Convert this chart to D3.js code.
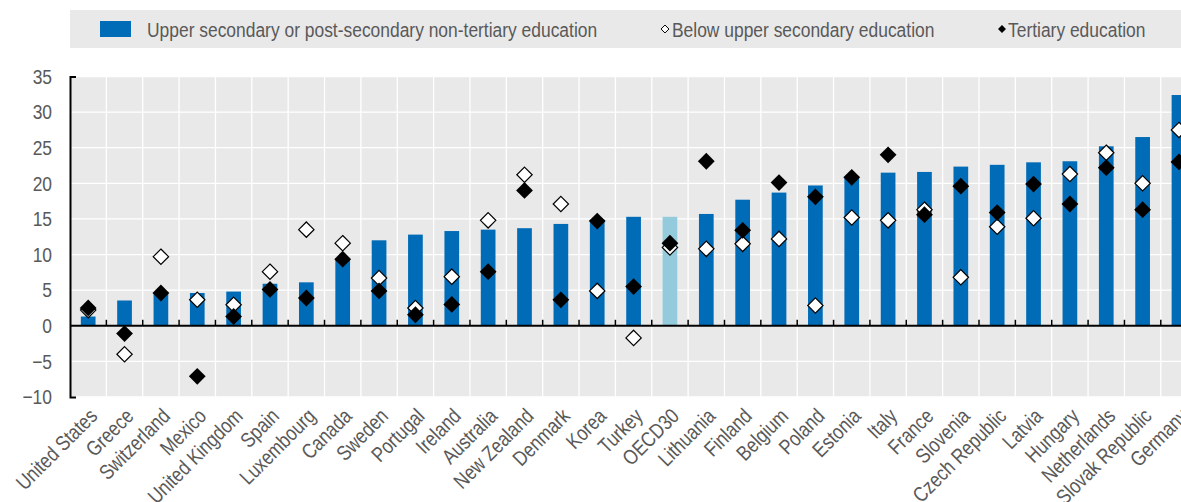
<!DOCTYPE html>
<html>
  <head>
    <meta charset="utf-8">
    <title>Education gaps chart</title>
    <script src="https://cdn.jsdelivr.net/npm/d3@7"></script>
    <style>
      body { margin: 0; background: #fff; }
      svg text { font-family: "Liberation Sans", Arial, sans-serif; fill: #595959; }
    </style>
  </head>

  <body>
    <svg id="chart" width="1181" height="502"></svg>

    <script>
      // data
      countries = ["United States", "Greece", "Switzerland", "Mexico", "United Kingdom", "Spain",
        "Luxembourg", "Canada", "Sweden", "Portugal", "Ireland", "Australia", "New Zealand",
        "Denmark", "Korea", "Turkey", "OECD30", "Lithuania", "Finland", "Belgium", "Poland",
        "Estonia", "Italy", "France", "Slovenia", "Czech Republic", "Latvia", "Hungary",
        "Netherlands", "Slovak Republic", "Germany"];
      upperSecondary = [1.3, 3.55, 4.6, 4.6, 4.8, 5.9, 6.1, 9.35, 12.0, 12.8, 13.3, 13.5, 13.7,
        14.3, 14.9, 15.3, 15.3, 15.7, 17.7, 18.7, 19.7, 20.8, 21.5, 21.6, 22.35, 22.6, 22.95,
        23.1, 25.2, 26.5, 32.4];
      belowUpper = [2.2, -4.0, 9.7, 3.65, 2.95, 7.6, 13.5, 11.6, 6.7, 2.5, 6.9, 14.8, 21.2,
        17.1, 4.9, -1.7, 11.0, 10.8, 11.5, 12.2, 2.85, 15.2, 14.8, 16.3, 6.8, 13.9, 15.1,
        21.3, 24.3, 20.0, 27.5];
      tertiary = [2.5, -1.1, 4.6, -7.1, 1.3, 5.1, 3.9, 9.35, 4.9, 1.55, 3.0, 7.6, 19.0,
        3.65, 14.7, 5.5, 11.6, 23.1, 13.4, 20.1, 18.1, 20.85, 24.0, 15.6, 19.6, 15.9, 19.9,
        17.1, 22.2, 16.3, 23.0];
      yTicks = [-10, -5, 0, 5, 10, 15, 20, 25, 30, 35];
      legendLabels = ["Upper secondary or post-secondary non-tertiary education",
        "Below upper secondary education", "Tertiary education"];

      chartData = countries.map(function(c, i) {
        return { country: c, bar: upperSecondary[i], below: belowUpper[i], tertiary: tertiary[i] };
      });

      chart = d3.select("#chart");
      left = 70;
      step = 36.36;
      narrow = 0.83; // squeeze Liberation Sans to look like Arial Narrow
      fontSize = "21px";

      x = d3.scaleBand()
        .domain(countries)
        .range([left, left + countries.length * step]);
      y = d3.scaleLinear()
        .domain([-10, 35])
        .range([397, 76.5]);

      // legend
      chart.append("rect")
        .attr("x", 70).attr("y", 10)
        .attr("width", 1111).attr("height", 38)
        .attr("fill", "#e9e9e9");
      chart.append("rect")
        .attr("x", 100).attr("y", 21)
        .attr("width", 31).attr("height", 16)
        .attr("fill", "#006bb6");
      diamond = d3.symbol().type(d3.symbolDiamond2);
      chart.append("path").attr("d", diamond.size(40)())
        .attr("transform", "translate(665,29)")
        .attr("fill", "#fff").attr("stroke", "#000").attr("stroke-width", 1);
      chart.append("path").attr("d", diamond.size(40)())
        .attr("transform", "translate(1002,29)")
        .attr("fill", "#000");
      legendX = [147, 672, 1008];
      chart.selectAll(".legtext")
        .data(legendLabels)
        .enter().append("text")
          .attr("transform", function(d, i) {
            return "translate(" + legendX[i] + ",36.5) scale(" + narrow + ",1)";
          })
          .style("font-size", fontSize)
          .text(function(d) { return d; });

      // plot background
      chart.append("rect")
        .attr("x", left).attr("y", y(35))
        .attr("width", 1181 - left).attr("height", y(-10) - y(35))
        .attr("fill", "#e9e9e9");

      // grid
      chart.selectAll(".hgrid")
        .data(yTicks)
        .enter().append("line")
          .attr("x1", left).attr("x2", 1181)
          .attr("y1", function(d) { return y(d); })
          .attr("y2", function(d) { return y(d); })
          .attr("stroke", "#fff").attr("stroke-width", 1.3);
      chart.selectAll(".vgrid")
        .data(countries.slice(1))
        .enter().append("line")
          .attr("x1", function(d) { return x(d); })
          .attr("x2", function(d) { return x(d); })
          .attr("y1", y(35)).attr("y2", y(-10))
          .attr("stroke", "#fff").attr("stroke-width", 1.3);

      // bars
      barWidth = 14.7;
      chart.selectAll(".bar")
        .data(chartData)
        .enter().append("rect")
          .attr("x", function(d) { return x(d.country) + x.bandwidth() / 2 - barWidth / 2; })
          .attr("width", barWidth)
          .attr("y", function(d) { return y(Math.max(0, d.bar)); })
          .attr("height", function(d) { return Math.abs(y(d.bar) - y(0)); })
          .attr("fill", function(d) { return d.country == "OECD30" ? "#93cbdc" : "#006bb6"; });

      // x axis along zero
      chart.append("line")
        .attr("x1", left).attr("x2", 1181)
        .attr("y1", y(0)).attr("y2", y(0))
        .attr("stroke", "#000").attr("stroke-width", 2);
      chart.selectAll(".xtick")
        .data(countries.slice(1))
        .enter().append("line")
          .attr("x1", function(d) { return x(d); })
          .attr("x2", function(d) { return x(d); })
          .attr("y1", y(0)).attr("y2", y(0) - 6)
          .attr("stroke", "#000").attr("stroke-width", 1.5);

      // markers
      chart.selectAll(".below")
        .data(chartData)
        .enter().append("path")
          .attr("d", diamond.size(150)())
          .attr("transform", function(d) {
            return "translate(" + (x(d.country) + x.bandwidth() / 2) + "," + y(d.below) + ")";
          })
          .attr("fill", "#fff").attr("stroke", "#000").attr("stroke-width", 1.2);
      chart.selectAll(".tertiary")
        .data(chartData)
        .enter().append("path")
          .attr("d", diamond.size(180)())
          .attr("transform", function(d) {
            return "translate(" + (x(d.country) + x.bandwidth() / 2) + "," + y(d.tertiary) + ")";
          })
          .attr("fill", "#000");

      // y axis
      yAxis = d3.axisLeft(y)
        .tickValues(yTicks)
        .tickSizeInner(0)
        .tickSizeOuter(-6);
      yG = chart.append("g")
        .attr("transform", "translate(" + left + ",0)")
        .call(yAxis);
      yG.select(".domain").attr("stroke", "#000").attr("stroke-width", 2);
      yG.selectAll(".tick text")
        .attr("x", -18 / narrow)
        .attr("transform", "scale(" + narrow + ",1)")
        .style("font-size", fontSize)
        .style("font-family", null)
        .attr("fill", null);

      // country labels
      chart.selectAll(".xlabel")
        .data(countries)
        .enter().append("text")
          .attr("text-anchor", "end")
          .attr("transform", function(d) {
            return "translate(" + (x(d) + x.bandwidth() / 2) + ",407) rotate(-45) scale(" + narrow + ",1)";
          })
          .attr("dy", "0.7em")
          .style("font-size", fontSize)
          .text(function(d) { return d; });
    </script>
  </body>
</html>
